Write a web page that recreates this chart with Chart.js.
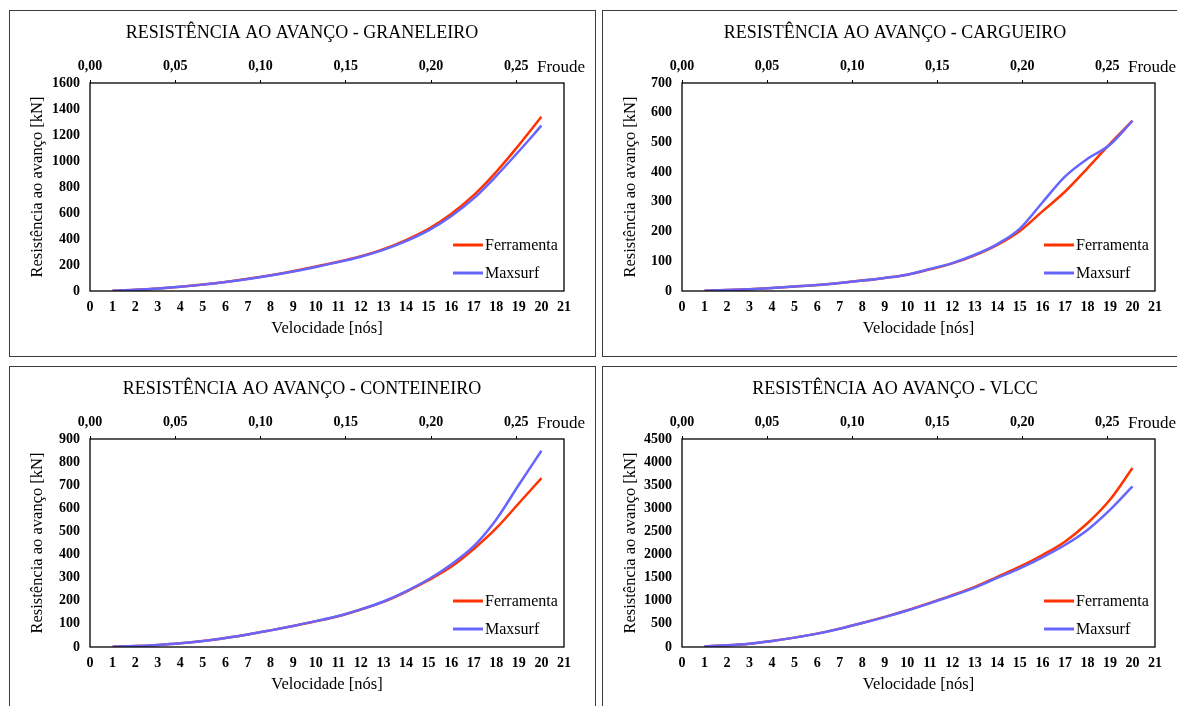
<!DOCTYPE html>
<html>
<head>
<meta charset="utf-8">
<script src="https://cdn.jsdelivr.net/npm/chart.js@4"></script>
<style>
html,body{margin:0;padding:0;background:#fff;overflow:hidden;width:1177px;height:706px;position:relative;}
.frame{position:absolute;box-sizing:border-box;border:1px solid #3c3c3c;pointer-events:none;}
canvas{position:absolute;}
</style>
</head>
<body>
<canvas id="c1" width="586" height="346" style="left:9px;top:10px;width:586px;height:346px"></canvas>
<canvas id="c2" width="586" height="346" style="left:602px;top:10px;width:586px;height:346px"></canvas>
<canvas id="c3" width="586" height="346" style="left:9px;top:366px;width:586px;height:346px"></canvas>
<canvas id="c4" width="586" height="346" style="left:602px;top:366px;width:586px;height:346px"></canvas>
<div class="frame" style="left:9px;top:10px;width:587px;height:347px"></div>
<div class="frame" style="left:602px;top:10px;width:600px;height:347px"></div>
<div class="frame" style="left:9px;top:366px;width:587px;height:360px"></div>
<div class="frame" style="left:602px;top:366px;width:600px;height:360px"></div>
<script>
// ---- data ----
const knots = [1,2,3,4,5,6,7,8,9,10,11,12,13,14,15,16,17,18,19,20];
const seriesNames = ['Ferramenta', 'Maxsurf'];
const froudeTicks = [0, 0.05, 0.10, 0.15, 0.20, 0.25];

const graneleiroFerramenta = [2.5, 9, 19, 33, 50, 70, 94, 121, 152, 188, 225, 268, 322, 392, 478, 592, 737, 917, 1122, 1340];
const graneleiroMaxsurf    = [2.5, 9, 19, 33, 49, 69, 92, 119, 150, 185, 222, 264, 316, 383, 466, 575, 712, 885, 1075, 1272];

const cargueiroFerramenta = [1, 3, 6, 10, 15, 20, 27, 35, 44, 55, 73, 93, 120, 155, 202, 268, 334, 413, 495, 573];
const cargueiroMaxsurf    = [1, 3, 6, 10, 15, 20, 27, 35, 44, 55, 74, 94, 122, 158, 210, 298, 385, 445, 492, 573];

const conteineiroFerramenta = [1.5, 4, 9, 16, 26, 39, 54, 72, 91, 111, 133, 162, 195, 239, 289, 347, 424, 514, 622, 731];
const conteineiroMaxsurf    = [1.5, 4, 9, 16, 26, 39, 54, 72, 91, 112, 134, 163, 197, 241, 293, 357, 436, 552, 702, 849];

const vlccFerramenta = [15, 36, 72, 130, 203, 289, 398, 521, 651, 796, 955, 1122, 1302, 1519, 1737, 1990, 2279, 2677, 3184, 3871];
const vlccMaxsurf    = [15, 36, 72, 130, 203, 289, 396, 518, 647, 790, 945, 1108, 1285, 1495, 1700, 1939, 2207, 2533, 2967, 3473];

const titles = [
  'RESISTÊNCIA AO AVANÇO - GRANELEIRO',
  'RESISTÊNCIA AO AVANÇO - CARGUEIRO',
  'RESISTÊNCIA AO AVANÇO - CONTEINEIRO',
  'RESISTÊNCIA AO AVANÇO - VLCC'
];
const yMax  = [1600, 700, 900, 4500];
const yStep = [200, 100, 100, 500];
const xTitle = 'Velocidade [nós]';
const yTitle = 'Resistência ao avanço [kN]';
const froudeLabel = 'Froude';

// ---- styling ----
const SERIF = "'Liberation Serif', 'Times New Roman', Times, serif";
Chart.defaults.font.family = SERIF;
Chart.defaults.color = '#000';
const colors = ['#ff3300', '#6666ff'];
const TICK_FONT = {size: 14, weight: 'bold'};

const decor = {
  id: 'decor',
  afterDatasetsDraw(chart) {
    const {ctx, chartArea: a} = chart;
    ctx.save();
    // plot box
    ctx.strokeStyle = '#000';
    ctx.lineWidth = 1.3;
    ctx.strokeRect(a.left, a.top, a.right - a.left, a.bottom - a.top);
    // Froude label
    ctx.fillStyle = '#000';
    ctx.font = '17px ' + SERIF;
    ctx.textAlign = 'left';
    ctx.textBaseline = 'middle';
    ctx.fillText(froudeLabel, a.right - 27, a.top - 15);
    // legend
    ctx.font = '16px ' + SERIF;
    chart.data.datasets.forEach((ds, i) => {
      const y = a.bottom - 46 + i * 28;
      const x0 = a.right - 111;
      ctx.strokeStyle = ds.borderColor;
      ctx.lineWidth = 3;
      ctx.beginPath();
      ctx.moveTo(x0, y);
      ctx.lineTo(x0 + 30, y);
      ctx.stroke();
      ctx.fillStyle = '#000';
      ctx.fillText(ds.label, x0 + 32, y + 1);
    });
    ctx.restore();
  }
};

function makeChart(id, idx, ferr, maxs, leftW, rightW) {
  const titleFont = {size: 18, weight: 'normal', lineHeight: 1.2};
  const titlePad = {top: 12.5, bottom: 10};
  const titleH = titleFont.size * titleFont.lineHeight + titlePad.top + titlePad.bottom;
  const datasets = [ferr, maxs].map((vals, i) => ({
    label: seriesNames[i],
    data: knots.map((k, j) => ({x: k, y: vals[j]})),
    borderColor: colors[i],
    backgroundColor: colors[i],
    borderWidth: 2.5,
    pointRadius: 0,
    cubicInterpolationMode: 'monotone',
    fill: false,
    order: i === 0 ? 1 : 0,
    xAxisID: 'x',
    yAxisID: 'y'
  }));
  return new Chart(document.getElementById(id), {
    type: 'line',
    data: {datasets},
    options: {
      responsive: false,
      animation: false,
      devicePixelRatio: 1,
      layout: {padding: 0},
      plugins: {
        legend: {display: false},
        tooltip: {enabled: false},
        title: {display: true, text: titles[idx], font: titleFont, color: '#000', padding: titlePad}
      },
      scales: {
        x: {
          type: 'linear', position: 'bottom', min: 0, max: 21,
          grid: {display: false, drawTicks: false},
          border: {display: false},
          ticks: {stepSize: 1, autoSkip: false, maxRotation: 0, padding: 8,
                  font: TICK_FONT, color: '#000', callback: v => String(v)},
          title: {display: true, text: xTitle, font: {size: 16.5}, color: '#000', padding: {top: 0, bottom: 17.4}},
          afterFit(s) { s.height = 65; }
        },
        x2: {
          type: 'linear', position: 'top', min: 0, max: 0.278,
          grid: {display: true, drawOnChartArea: false, drawTicks: true, tickLength: 3, color: '#000', lineWidth: 1},
          border: {display: false},
          afterBuildTicks(s) { s.ticks = froudeTicks.map(v => ({value: v})); },
          ticks: {autoSkip: false, maxRotation: 0, padding: 5,
                  font: TICK_FONT, color: '#000',
                  callback: v => v.toFixed(2).replace('.', ',')},
          afterFit(s) { s.height = 73 - titleH; }
        },
        y: {
          type: 'linear', position: 'left', min: 0, max: yMax[idx],
          grid: {display: false, drawTicks: false},
          border: {display: false},
          ticks: {stepSize: yStep[idx], padding: 10, font: TICK_FONT, color: '#000', callback: v => String(v)},
          title: {display: true, text: yTitle, font: {size: 16.5}, color: '#000', padding: {top: 19, bottom: 0}},
          afterFit(s) { s.width = leftW; }
        },
        yR: {
          type: 'linear', position: 'right', display: true,
          grid: {display: false, drawTicks: false},
          border: {display: false},
          ticks: {display: false},
          afterFit(s) { s.width = rightW; }
        }
      }
    },
    plugins: [decor]
  });
}

makeChart('c1', 0, graneleiroFerramenta, graneleiroMaxsurf, 81, 31);
makeChart('c2', 1, cargueiroFerramenta, cargueiroMaxsurf, 80, 33);
makeChart('c3', 2, conteineiroFerramenta, conteineiroMaxsurf, 81, 31);
makeChart('c4', 3, vlccFerramenta, vlccMaxsurf, 80, 33);
</script>
</body>
</html>
